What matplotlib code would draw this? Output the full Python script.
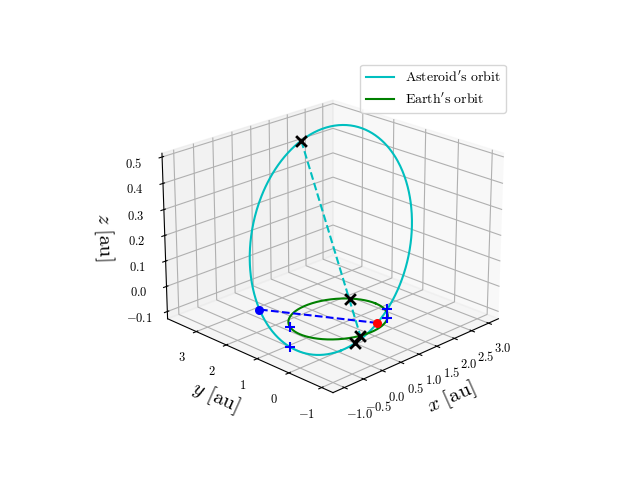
import numpy as np
import matplotlib
matplotlib.use("Agg")
import matplotlib.pyplot as plt
from matplotlib.ticker import FuncFormatter, MultipleLocator

plt.rcParams["mathtext.fontset"] = "cm"

# orbital elements of the asteroid (au, deg)
a_ast = 2.45
e_ast = 0.73
inc_ast = np.radians(7.0)
Omega_ast = np.radians(-64.0)
omega_ast = np.radians(-62.0)

# marked positions: asteroid true anomalies and Earth longitudes (deg)
ast_marks = [186.0, 25.0]
earth_marks = [-105.0, 35.0]

nu = np.linspace(0, 2 * np.pi, 600)


def orbit_xyz(a, e, inc, Om, om, f):
    r = a * (1 - e**2) / (1 + e * np.cos(f))
    u = f + om
    x = r * (np.cos(Om) * np.cos(u) - np.sin(Om) * np.sin(u) * np.cos(inc))
    y = r * (np.sin(Om) * np.cos(u) + np.cos(Om) * np.sin(u) * np.cos(inc))
    z = r * np.sin(u) * np.sin(inc)
    return x, y, z


def orbit(f):
    return orbit_xyz(a_ast, e_ast, inc_ast, Omega_ast, omega_ast, f)


ax_, ay_, az_ = orbit(nu)
ex_, ey_, ez_ = np.cos(nu), np.sin(nu), np.zeros_like(nu)

# line of nodes
nx, ny, nz = orbit(-omega_ast + np.array([0.0, np.pi]))

# where the projected asteroid orbit crosses Earth's orbit
rxy = np.hypot(ax_, ay_) - 1
idx = np.where(np.sign(rxy[:-1]) != np.sign(rxy[1:]))[0]

am = np.radians(ast_marks)
mx, my, mz = orbit(am)
em = np.radians(earth_marks)

fig = plt.figure(figsize=(6.4, 4.8))
ax = fig.add_subplot(projection="3d")
ax.plot(ax_, ay_, az_, color="c", label=r"$\mathrm{Asteroid's\ orbit}$")
ax.plot(ex_, ey_, ez_, color="g", label=r"$\mathrm{Earth's\ orbit}$")
ax.plot(nx, ny, nz, "b--")
ax.plot([mx[0], np.cos(em[0])], [my[0], np.sin(em[0])], [mz[0], 0], "c--")
ax.scatter(nx[0], ny[0], nz[0], color="r", s=30, depthshade=False)
ax.scatter(nx[1], ny[1], nz[1], color="b", s=30, depthshade=False)
ax.scatter(ax_[idx], ay_[idx], az_[idx], color="b", marker="+", s=60,
           linewidths=1.5, depthshade=False)
ax.scatter(ax_[idx], ay_[idx], 0 * az_[idx], color="b", marker="+", s=60,
           linewidths=1.5, depthshade=False)
ax.scatter(mx, my, mz, color="k", marker="x", s=60, linewidths=2, depthshade=False)
ax.scatter(mx[:1], my[:1], mz[:1], color="r", marker="x", s=25, depthshade=False)
ax.scatter(np.cos(em), np.sin(em), 0 * em, color="k", marker="x", s=60,
           linewidths=2, depthshade=False)
ax.scatter(np.cos(em[:1]), np.sin(em[:1]), [0], color="r", marker="x", s=25,
           depthshade=False)

ax.view_init(elev=22, azim=-135)
ax.xaxis.set_major_locator(MultipleLocator(0.5))
ax.yaxis.set_major_locator(MultipleLocator(1))
ax.zaxis.set_major_locator(MultipleLocator(0.1))
ax.xaxis.set_major_formatter(FuncFormatter(lambda v, p: rf"${v:.1f}$"))
ax.yaxis.set_major_formatter(FuncFormatter(lambda v, p: rf"${v:.0f}$"))
ax.zaxis.set_major_formatter(FuncFormatter(lambda v, p: rf"${v:.1f}$"))
ax.tick_params(labelsize=9)
ax.set_xlabel(r"$x\ [\mathrm{au}]$", fontsize=15)
ax.set_ylabel(r"$y\ [\mathrm{au}]$", fontsize=15)
ax.set_zlabel(r"$z\ [\mathrm{au}]$", fontsize=15)
ax.legend()
fig.savefig("out.png", dpi=100)
